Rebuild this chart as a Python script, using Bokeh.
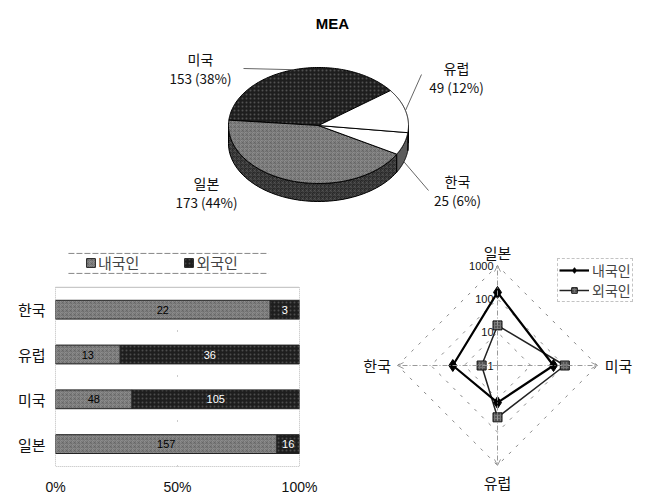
import numpy as np
from bokeh.plotting import figure
from bokeh.models import (Range1d, ColumnDataSource, Legend, LegendItem,
                          FixedTicker, Arrow, OpenHead)
from bokeh.layouts import column, row
from bokeh.embed import file_html
from bokeh.resources import INLINE
from bokeh.core.properties import value

# ---------------- data ----------------
title_text = "MEA"
regions = ["한국", "유럽", "미국", "일본"]
domestic = [22, 13, 48, 157]          # 내국인
foreign = [3, 36, 105, 16]            # 외국인
series_names = ["내국인", "외국인"]
pie_percent = [6, 12, 38, 44]         # shown percentages, per region
pie_order = ["미국", "일본", "한국", "유럽"]   # counter-clockwise from the start angle
radar_order = ["일본", "미국", "유럽", "한국"]  # clockwise from the top
radar_ticks = [1, 10, 100, 1000]
bar_ticks = [0, 50, 100]

FONT = value("Noto Sans CJK KR")
GRAY = "#8e8e8e"
DARK = "#1e1e1e"

totals = {r: d + f for r, d, f in zip(regions, domestic, foreign)}
pcts = dict(zip(regions, pie_percent))


def bare(fig):
    fig.axis.visible = False
    fig.grid.visible = False
    fig.outline_line_color = None
    fig.background_fill_color = "white"
    fig.border_fill_color = "white"


# ---------------- 3D pie ----------------
PW, PH = 651, 232
pie = figure(width=PW, height=PH, x_range=Range1d(0, PW), y_range=Range1d(PH, 0),
             output_backend="svg", toolbar_location=None, min_border=0, frame_align=False)
bare(pie)

CX, CY, RX, RY, DEPTH = 318, 125, 90, 58, 18
START = 37.0
grand = sum(totals.values())

top_fill = {"미국": DARK, "일본": GRAY, "한국": "white", "유럽": "white"}
side_fill = {"미국": "#111111", "일본": "#262626", "한국": "#5c5c5c", "유럽": "#d8d8d8"}
hatch = {"미국": ("dot", "#7a7a7a"), "일본": ("criss_cross", "#5e5e5e"),
         "한국": (" ", None), "유럽": (" ", None)}


def edge(t_deg):
    t = np.radians(t_deg)
    return CX + RX * np.cos(t), CY - RY * np.sin(t)


angles = {}
a = START
for name in pie_order:
    span = 360.0 * totals[name] / grand
    angles[name] = (a, a + span)
    a += span

# side walls (front half only), drawn first
for name in pie_order:
    a0, a1 = angles[name]
    for lo_b, hi_b in [(180, 360), (540, 720)]:
        lo, hi = max(a0, lo_b), min(a1, hi_b)
        if lo < hi:
            t = np.linspace(lo, hi, 60)
            ex, ey = edge(t)
            xs = np.concatenate([ex, ex[::-1]])
            ys = np.concatenate([ey, ey[::-1] + DEPTH])
            hp, hc = hatch[name]
            pie.patch(xs, ys, fill_color=side_fill[name], line_color="black", line_width=1,
                      hatch_pattern=hp, hatch_color=hc or "black", hatch_scale=4,
                      hatch_alpha=0.45, hatch_weight=1)

# top faces
for name in pie_order:
    a0, a1 = angles[name]
    t = np.linspace(a0, a1, 120)
    ex, ey = edge(t)
    xs = np.concatenate([[CX], ex])
    ys = np.concatenate([[CY], ey])
    hp, hc = hatch[name]
    pie.patch(xs, ys, fill_color=top_fill[name], line_color="black", line_width=1,
              hatch_pattern=hp, hatch_color=hc or "black", hatch_scale=4,
              hatch_alpha=0.55, hatch_weight=1)

# labels with leader lines
label_pos = {"미국": (200, 58), "유럽": (456, 67), "한국": (457, 180), "일본": (206, 182)}
leader_from = {"미국": (243, 68), "유럽": (421, 74), "한국": (428, 190)}
for name in pie_order:
    lx, ly = label_pos[name]
    pie.text([lx], [ly], text=[name], text_font=FONT, text_font_size="14px",
             text_align="center", text_baseline="middle", text_color="#111")
    pie.text([lx], [ly + 19], text=[f"{totals[name]} ({pcts[name]}%)"], text_font=FONT,
             text_font_size="13.5px", text_align="center", text_baseline="middle",
             text_color="#111")
    if name in leader_from:
        a0, a1 = angles[name]
        mx, my = edge((a0 + a1) / 2)
        if np.sin(np.radians((a0 + a1) / 2)) < 0:
            my += DEPTH
        fx, fy = leader_from[name]
        pie.line([fx, mx], [fy, my], line_color="#666", line_width=1)

pie.text([332], [23], text=[title_text], text_font=value("Liberation Sans"),
         text_font_size="15px", text_font_style="bold", text_align="center",
         text_baseline="middle", text_color="black")

# ---------------- 100% stacked bars ----------------
# numeric rows (한국 on top); the frame reaches above the plot box to hold the legend
BW, BH = 335, 265
n = len(regions)
row_pos = [n - 1 - i for i in range(n)]
Y_LO, Y_HI, Y_TOP = -0.5, n - 0.5, n + 0.5
bar = figure(width=BW, height=BH, x_range=Range1d(0, 100), y_range=Range1d(Y_LO, Y_TOP),
             output_backend="svg", toolbar_location=None,
             min_border_left=55, min_border_right=36, min_border_top=10,
             min_border_bottom=30, frame_align=False)
bar.background_fill_color = "white"
bar.border_fill_color = "white"
bar.outline_line_color = None
bar.grid.visible = False

# plot-area box and the 50% guide
bar.quad(left=[bar_ticks[0]], right=[bar_ticks[-1]], bottom=[Y_LO], top=[Y_HI],
         fill_color=None, line_color="#777", line_width=1, line_dash="1 1")
bar.segment(x0=bar_ticks[1:-1], x1=bar_ticks[1:-1], y0=[Y_LO] * (len(bar_ticks) - 2),
            y1=[Y_HI] * (len(bar_ticks) - 2), line_color="#999", line_dash="1 14")
# legend frame: dashed rules above and below the legend row
bar.segment(x0=[5.3, 5.3], x1=[87.3, 87.3], y0=[Y_HI + 0.31, Y_HI + 0.756],
            y1=[Y_HI + 0.31, Y_HI + 0.756], line_color="#888", line_width=1,
            line_dash="6 2")

dom_pct = [100.0 * d / (d + f) for d, f in zip(domestic, foreign)]
for_pct = [100.0 * f / (d + f) for d, f in zip(domestic, foreign)]
src = ColumnDataSource(dict(y=row_pos, dom=dom_pct, frn=for_pct))
rs = bar.hbar_stack(["dom", "frn"], y="y", height=0.42, source=src,
                    fill_color=[GRAY, DARK], line_color="#222", line_width=1,
                    hatch_pattern=["criss_cross", "dot"], hatch_color=["#5e5e5e", "#7a7a7a"],
                    hatch_scale=4, hatch_alpha=0.5, hatch_weight=1)

# value labels inside the segments
lab_x = [p / 2 for p in dom_pct] + [d + f / 2 for d, f in zip(dom_pct, for_pct)]
lab_y = row_pos + row_pos
lab_t = [str(v) for v in domestic] + [str(v) for v in foreign]
lab_c = ["black"] * n + ["white"] * n
bar.text(lab_x, lab_y, text=lab_t, text_color=lab_c, text_font=value("Liberation Sans"),
         text_font_size="11px", text_align="center", text_baseline="middle")

bar.xaxis.ticker = FixedTicker(ticks=bar_ticks)
bar.xaxis.major_label_overrides = {t: f"{t}%" for t in bar_ticks}
bar.xaxis.major_label_text_font = "Liberation Sans"
bar.xaxis.major_label_text_font_size = "14px"
bar.xaxis.major_label_standoff = 12
bar.yaxis.ticker = FixedTicker(ticks=row_pos)
bar.yaxis.major_label_overrides = {p: r for p, r in zip(row_pos, regions)}
bar.yaxis.major_label_text_font = "Noto Sans CJK KR"
bar.yaxis.major_label_text_font_size = "15px"
bar.yaxis.major_label_standoff = 10
for ax in (bar.xaxis, bar.yaxis):
    ax.axis_line_color = None
    ax.major_tick_line_color = None
    ax.minor_tick_line_color = None
    ax.major_tick_out = 0
    ax.major_tick_in = 0
    ax.minor_tick_out = 0
    ax.major_label_text_color = "#111"

bleg = Legend(items=[LegendItem(label=series_names[0], renderers=[rs[0]]),
                     LegendItem(label=series_names[1], renderers=[rs[1]])],
              orientation="horizontal", location=(30, 193),
              label_text_font="Noto Sans CJK KR", label_text_font_size="15px",
              glyph_width=11, glyph_height=11, label_height=14, label_standoff=2,
              spacing=44, padding=2, margin=0, border_line_color=None,
              background_fill_alpha=0)
bar.add_layout(bleg)

# ---------------- log radar ----------------
RWd, RHt = 316, 265
S = 33.3          # pixels per decade
RCX, RCY = 162, 133
radar = figure(width=RWd, height=RHt, x_range=Range1d(-RCX / S, (RWd - RCX) / S),
               y_range=Range1d(-(RHt - RCY) / S, RCY / S), output_backend="svg",
               toolbar_location=None, min_border=0, frame_align=False)
bare(radar)

dirs = dict(zip(radar_order, [90, 0, -90, 180]))
rmax = np.log10(radar_ticks[-1])

# web rings
for tv in radar_ticks[1:]:
    r = np.log10(tv)
    radar.line([r, 0, -r, 0, r], [0, r, 0, -r, 0], line_color="#888", line_width=1,
               line_dash="3 7")
# spokes with open arrow heads
for name in radar_order:
    t = np.radians(dirs[name])
    radar.add_layout(Arrow(x_start=0, y_start=0, x_end=rmax * np.cos(t), y_end=rmax * np.sin(t),
                           line_color="#999", line_width=1, line_dash="5 2 1 2",
                           end=OpenHead(size=6, line_color="#999", line_width=1)))
# scale labels along the top spoke
for tv in radar_ticks:
    radar.text([-0.12], [np.log10(tv)], text=[str(tv)], text_font=value("Liberation Sans"),
               text_font_size="11px", text_align="right", text_baseline="middle",
               text_color="#111")
# category labels
cat_pos = {"일본": (0, 3.4, "center"), "미국": (3.22, 0, "left"),
           "유럽": (0, -3.5, "center"), "한국": (-3.2, 0, "right")}
for name in radar_order:
    x, y, al = cat_pos[name]
    radar.text([x], [y], text=[name], text_font=FONT, text_font_size="15px",
               text_align=al, text_baseline="middle", text_color="#111")


def radar_xy(vals):
    lookup = dict(zip(regions, vals))
    xs, ys = [], []
    for name in radar_order:
        r = np.log10(lookup[name])
        t = np.radians(dirs[name])
        xs.append(r * np.cos(t))
        ys.append(r * np.sin(t))
    return xs, ys


fx, fy = radar_xy(foreign)
l2 = radar.line(fx + fx[:1], fy + fy[:1], line_color="#222", line_width=1.5)
m2 = radar.scatter(fx, fy, marker="square", size=9, fill_color="#777", line_color="#111",
                   hatch_pattern="dot", hatch_color="#222", hatch_scale=3)
dx, dy = radar_xy(domestic)
l1 = radar.line(dx + dx[:1], dy + dy[:1], line_color="black", line_width=2.2)
m1 = radar.scatter(dx, dy, marker="diamond", size=12, fill_color="black", line_color="black")

rleg = Legend(items=[LegendItem(label=series_names[0], renderers=[l1, m1]),
                     LegendItem(label=series_names[1], renderers=[l2, m2])],
              location=(222, 195), label_text_font="Noto Sans CJK KR",
              label_text_font_size="14px", glyph_width=30, glyph_height=14,
              label_height=14, label_standoff=3, spacing=0, padding=1, margin=0,
              border_line_color="#888", border_line_dash="2 2", background_fill_alpha=0)
radar.add_layout(rleg)

layout = column(pie, row(bar, radar))
open("out.html", "w").write(file_html(layout, INLINE))
